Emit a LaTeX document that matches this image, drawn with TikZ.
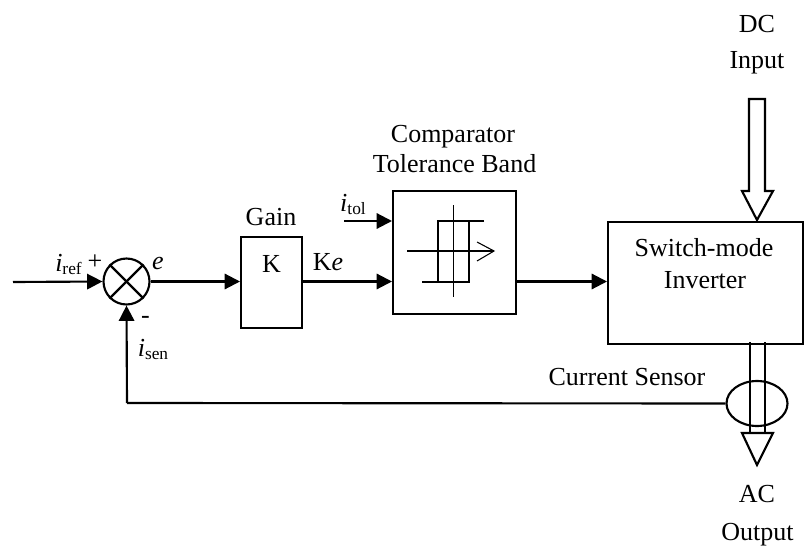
\documentclass[tikz,border=0pt]{standalone}
\usepackage{fontspec}
\setmainfont{Liberation Serif}
\usetikzlibrary{arrows.meta,shapes.geometric}
\newcommand{\subtxt}[1]{\raisebox{-0.14em}{\fontsize{13}{15}\selectfont #1}}
\begin{document}
\begin{tikzpicture}[x=0.75pt,y=-0.75pt,line width=1.6pt,font=\fontsize{19.5}{23}\selectfont]
\tikzstyle{block}=[draw,rectangle,inner sep=0pt,anchor=north west]
\tikzstyle{junction}=[draw,circle,minimum size=34.5pt,inner sep=0pt]
\tikzstyle{signal}=[-{Triangle[length=11.5pt,width=11.5pt]}]
\tikzstyle{bigarrow}=[fill=white,miter limit=10]
\tikzstyle{thinline}=[line width=0.8pt]
\tikzstyle{caption}=[inner sep=0pt,anchor=base]
\useasboundingbox (0,0) rectangle (804,546);
% blocks
\node[junction] (sum) at (126.5,281.5) {};
\node[block,minimum width=45.75pt,minimum height=68.25pt] (gain) at (240,236) {};
\node[block,minimum width=92.25pt,minimum height=92.25pt] (comp) at (392,190) {};
\node[block,minimum width=146.25pt,minimum height=91.5pt] (inv) at (607,221) {};
\coordinate (in) at (13,282);
\coordinate (tol) at (344,221);
\coordinate (corner) at (127,403);
% block arrows
\draw[bigarrow] (749,99) -- (765,99) -- (765,191) -- (773,191) -- (757,220) -- (742,191) -- (749,191) -- cycle;
\draw[bigarrow] (742,433) -- (773,433) -- (757,465) -- cycle;
\draw (750,342) -- (750,433);
\draw (765,342) -- (765,433);
\node[draw,ellipse,minimum width=45.75pt,minimum height=33.75pt,inner sep=0pt] (sensor) at (757,403.5) {};
% signals
\draw[signal] (in) -- (sum.west);
\draw[signal] (sum.east) -- (gain.west |- sum.east);
\draw[signal] (gain.east |- sum.east) -- (comp.west |- sum.east);
\draw[signal] (tol) -- (comp.west |- tol);
\draw[signal] (comp.east |- sum.east) -- (inv.west |- sum.east);
\draw (sensor.west) -- (corner);
\draw[signal] (corner) -- (sum.south);
\draw (sum.45) -- (sum.225);
\draw (sum.135) -- (sum.315);
% hysteresis
\draw[thinline] (453.5,205) -- (453.5,297);
\draw[thinline] (407,251) -- (494,251);
\draw[thinline] (477,242) -- (494,251) -- (477,261);
\draw[line width=1.1pt] (484,221) -- (438,221) -- (438,282);
\draw[line width=1.1pt] (422,282) -- (469,282) -- (469,221);
% labels
\node[caption] (lk) at (271.5,272) {K};
\node[caption] (lgain) at (271,225) {Gain};
\node[caption] (lcomp) at (453,142) {Comparator};
\node[caption] (lband) at (454.5,172) {Tolerance Band};
\node[caption] (lsw) at (704,256) {Switch-mode};
\node[caption] (linv) at (705,288) {Inverter};
\node[caption] (lcs) at (627,385) {Current Sensor};
\node[caption] (ldc) at (757,32) {DC};
\node[caption] (lin) at (757,68) {Input};
\node[caption] (lac) at (757,502) {AC};
\node[caption] (lout) at (757.5,540) {Output};
\node[caption] (lref) at (68.5,271) {\textit{i}\subtxt{ref}};
\node[caption] (lplus) at (95,269) {+};
\node[caption] (le) at (158,269) {\textit{e}};
\node[caption] (lminus) at (145.5,323) {-};
\node[caption] (lsen) at (153,356) {\textit{i}\subtxt{sen}};
\node[caption] (ltol) at (353,211) {\textit{i}\subtxt{tol}};
\node[caption] (lke) at (328,270) {K\textit{e}};
\end{tikzpicture}
\end{document}
